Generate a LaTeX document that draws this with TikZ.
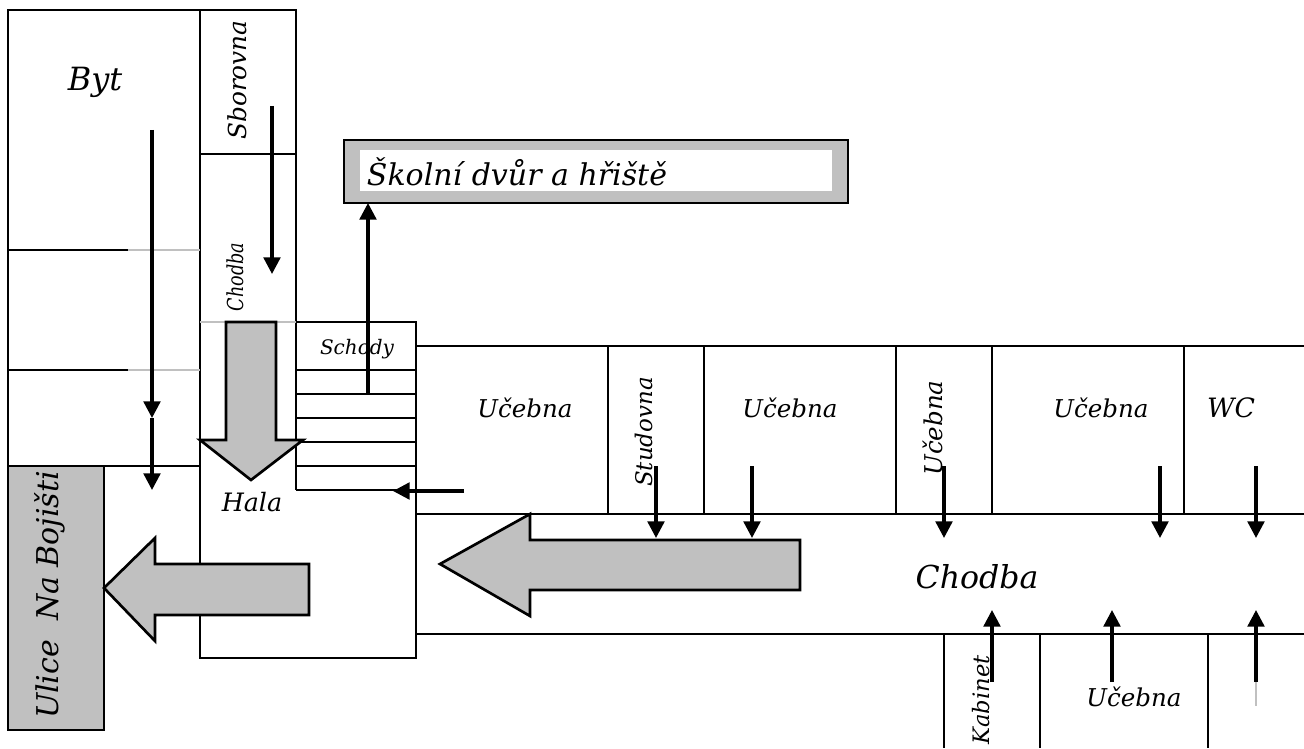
\documentclass[tikz,border=0pt]{standalone}
\usepackage{fontspec}
\setmainfont{DejaVu Serif}
\definecolor{gr}{HTML}{C0C0C0}
\newcommand{\lab}[1]{\fontsize{#1}{#1}\selectfont\itshape}
\usetikzlibrary{arrows.meta}
\tikzset{
  wall/.style={draw=black,line width=2pt},
  thin wall/.style={draw=black,line width=1.8pt},
  pale/.style={draw=gr,line width=1.6pt},
  flow/.style={draw=black,line width=2.5pt,-{Triangle[length=12.5pt,width=12.5pt]}},
  block/.style={draw=black,fill=gr,line width=2pt,miter limit=10},
  txt/.style={inner sep=0pt,text=black}
}
\begin{document}
\begin{tikzpicture}[x=0.75pt,y=-0.75pt]
\useasboundingbox[fill=white] (0,0) rectangle (1304,749);
% left block
\draw[wall] (8,466) -- (8,10) -- (296,10) -- (296,490);
\draw[wall] (200,10) -- (200,658) -- (416,658) -- (416,538);
\draw[wall] (416,610) -- (416,658);
\draw[thin wall] (200,154) -- (296,154);
\draw[thin wall] (8,250) -- (128,250);
\draw[thin wall] (8,370) -- (128,370);
\draw[pale] (128,250) -- (200,250);
\draw[pale] (128,370) -- (200,370);
\draw[pale] (200,322) -- (296,322);
\draw[thin wall] (8,466) -- (200,466);
% stairs
\draw[wall] (296,322) -- (416,322) -- (416,538);
\foreach \y in {370,394,418,442,466,490} \draw[thin wall] (296,\y) -- (416,\y);
% corridor and rooms
\draw[thin wall] (416,346) -- (1304,346);
\draw[wall] (416,514) -- (1304,514);
\draw[wall] (416,634) -- (1304,634);
\foreach \x in {608,704,896,992,1184} \draw[wall] (\x,346) -- (\x,514);
\foreach \x in {944,1040,1208} \draw[thin wall] (\x,634) -- (\x,748);
% street
\draw[block] (8,466) rectangle (104,730);
% yard
\draw[draw=black,line width=2pt,fill=gr] (344,140) rectangle (848,203);
\fill[white] (360,150) rectangle (832,191);
% block arrows
\draw[block] (226,322) -- (276,322) -- (276,440) -- (303,440) -- (251,480) -- (200,440) -- (226,440) -- cycle;
\draw[block] (309,564) -- (155,564) -- (155,538) -- (104,588) -- (155,641) -- (155,615) -- (309,615) -- cycle;
\draw[block] (800,540) -- (530,540) -- (530,514) -- (440,564) -- (530,616) -- (530,590) -- (800,590) -- cycle;
% flow arrows
\coordinate (a1) at (152,130); \coordinate (a2) at (152,418); \coordinate (a3) at (152,490);
\draw[flow] (a1) -- (a2);
\draw[flow] (a2) -- (a3);
\coordinate (b1) at (272,106); \coordinate (b2) at (272,274);
\draw[flow] (b1) -- (b2);
\coordinate (c1) at (368,394); \coordinate (c2) at (368,203);
\draw[flow] (c1) -- (c2);
\coordinate (d1) at (464,491); \coordinate (d2) at (393,491);
\draw[flow] (d1) -- (d2);
\foreach \x in {656,752,944,1160,1256} \draw[flow] (\x,466) -- (\x,538);
\foreach \x in {992,1112,1256} \draw[flow] (\x,682) -- (\x,610);
\draw[pale,line width=1.2pt] (1256,682) -- (1256,706);
% labels
\node[txt] (byt) at (95,82) {\lab{24}Byt};
\node[txt,rotate=90] (sbor) at (237,80) {\lab{18.6}Sborovna};
\node[txt,rotate=90] (chod1) at (235,277) {\scalebox{0.8}[1]{\lab{16.5}Chodba}};
\node[txt] (yard) at (517,172) {\lab{22.5}Školní dvůr a hřiště};
\node[txt] (schody) at (357,349) {\lab{15}Schody};
\node[txt] (hala) at (252,502) {\lab{19}Hala};
\node[txt] (u1) at (525,408) {\lab{18.4}Učebna};
\node[txt,rotate=90] (stud) at (644,432) {\lab{17.2}Studovna};
\node[txt] (u2) at (790,408) {\lab{18.4}Učebna};
\node[txt,rotate=90] (u3) at (933,428) {\lab{18.4}Učebna};
\node[txt] (u4) at (1101,408) {\lab{18.4}Učebna};
\node[txt] (wc) at (1231,408) {\lab{20}WC};
\node[txt] (chod2) at (977,577) {\lab{23.7}Chodba};
\node[txt,rotate=90] (kab) at (981,700) {\lab{17}Kabinet};
\node[txt] (u5) at (1134,697) {\lab{18.4}Učebna};
\node[txt,rotate=90] (ulice) at (50,595) {\lab{22.5}Ulice\ \ Na Bojišti};
\end{tikzpicture}
\end{document}
